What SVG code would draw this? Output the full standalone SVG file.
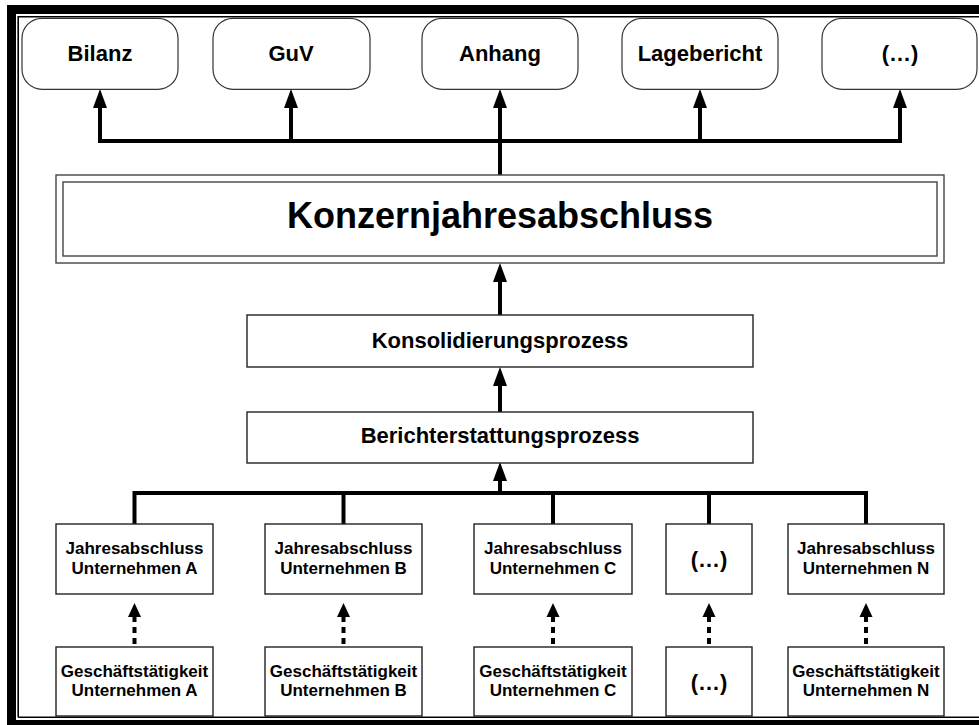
<svg xmlns="http://www.w3.org/2000/svg" width="979" height="725" viewBox="0 0 979 725">
  <defs>
    <marker id="arrow" markerUnits="userSpaceOnUse" markerWidth="20" markerHeight="14" refX="0" refY="7" orient="auto" overflow="visible">
      <path d="M0,0 L19,7 L0,14 Z" fill="#000"/>
    </marker>
    <marker id="arrow-small" markerUnits="userSpaceOnUse" markerWidth="14" markerHeight="13" refX="0" refY="6.5" orient="auto" overflow="visible">
      <path d="M0,0 L14,6.5 L0,13 Z" fill="#000"/>
    </marker>
    <style>
      text { font-family: "Liberation Sans", Arial, sans-serif; font-weight: bold; fill: #000; text-anchor: middle; }
      .doc { fill: #fff; stroke: #333; stroke-width: 1.2; }
      .box { fill: #fff; stroke: #222; stroke-width: 1.4; }
      .t22 { font-size: 22px; }
      .t17 { font-size: 17px; }
      .title { font-size: 36px; }
      .line { fill: none; stroke: #000; stroke-width: 4; }
      .bus { fill: none; stroke: #000; stroke-width: 4; stroke-linecap: square; }
      .dash { fill: none; stroke: #000; stroke-width: 4; stroke-dasharray: 6 5; stroke-linecap: butt; }
    </style>
  </defs>

  <rect width="979" height="725" fill="#fff"/>

  <!-- frame -->
  <g id="frame">
    <rect x="7" y="5" width="980" height="9" fill="#000"/>
    <rect x="7" y="5" width="9" height="730" fill="#000"/>
    <rect x="7" y="720" width="980" height="10" fill="#000"/>
    <path d="M18.2,717.3 V16.7 H985" fill="none" stroke="#000" stroke-width="1.6"/>
    <path d="M18.2,717.3 H985" fill="none" stroke="#000" stroke-width="1.6"/>
  </g>

  <!-- connectors -->
  <g id="connectors">
    <path class="bus" d="M100,141 H900"/>
    <path class="line" d="M100,141 V108" marker-end="url(#arrow)"/>
    <path class="line" d="M291,141 V108" marker-end="url(#arrow)"/>
    <path class="line" d="M500,141 V108" marker-end="url(#arrow)"/>
    <path class="line" d="M700,141 V108" marker-end="url(#arrow)"/>
    <path class="line" d="M900,141 V108" marker-end="url(#arrow)"/>
    <path class="line" d="M500,175 V141"/>
    <path class="line" d="M500,315 V282" marker-end="url(#arrow)"/>
    <path class="line" d="M500,412 V386" marker-end="url(#arrow)"/>
    <path class="bus" d="M134.5,524 V493 H866 V524"/>
    <path class="line" d="M343.5,493 V524"/>
    <path class="line" d="M553,493 V524"/>
    <path class="line" d="M709,493 V524"/>
    <path class="line" d="M500,493 V481" marker-end="url(#arrow)"/>
    <path class="dash" d="M134.5,644 V617" marker-end="url(#arrow-small)"/>
    <path class="dash" d="M343.5,644 V617" marker-end="url(#arrow-small)"/>
    <path class="dash" d="M553,644 V617" marker-end="url(#arrow-small)"/>
    <path class="dash" d="M709,644 V617" marker-end="url(#arrow-small)"/>
    <path class="dash" d="M866,644 V617" marker-end="url(#arrow-small)"/>
  </g>

  <!-- report components -->
  <g id="bilanz">
    <rect class="doc" x="22" y="18.3" width="156" height="71" rx="20"/>
    <text class="t22" x="100" y="61">Bilanz</text>
  </g>
  <g id="guv">
    <rect class="doc" x="213" y="18.3" width="157" height="71" rx="20"/>
    <text class="t22" x="291" y="61">GuV</text>
  </g>
  <g id="anhang">
    <rect class="doc" x="422" y="18.3" width="156" height="71" rx="20"/>
    <text class="t22" x="500" y="61">Anhang</text>
  </g>
  <g id="lagebericht">
    <rect class="doc" x="622" y="18.3" width="156" height="71" rx="20"/>
    <text class="t22" x="700" y="61">Lagebericht</text>
  </g>
  <g id="weitere">
    <rect class="doc" x="822" y="18.3" width="155" height="71" rx="20"/>
    <text class="t22" x="900" y="61">(…)</text>
  </g>

  <!-- group financial statement -->
  <g id="konzernjahresabschluss">
    <rect x="56" y="175" width="888" height="88" fill="#fff" stroke="#444" stroke-width="1.4"/>
    <rect x="63" y="182" width="874" height="74" fill="none" stroke="#444" stroke-width="1.4"/>
    <text class="title" x="500" y="228">Konzernjahresabschluss</text>
  </g>

  <g id="konsolidierungsprozess">
    <rect class="box" x="247" y="315" width="506" height="52"/>
    <text class="t22" x="500" y="348">Konsolidierungsprozess</text>
  </g>
  <g id="berichterstattungsprozess">
    <rect class="box" x="247" y="412" width="506" height="51"/>
    <text class="t22" x="500" y="443">Berichterstattungsprozess</text>
  </g>

  <!-- single-entity statements -->
  <g id="ja-a">
    <rect class="box" x="56" y="524" width="157" height="70"/>
    <text class="t17" x="134.5" y="554">Jahresabschluss</text>
    <text class="t17" x="134.5" y="574">Unternehmen A</text>
  </g>
  <g id="ja-b">
    <rect class="box" x="265" y="524" width="157" height="70"/>
    <text class="t17" x="343.5" y="554">Jahresabschluss</text>
    <text class="t17" x="343.5" y="574">Unternehmen B</text>
  </g>
  <g id="ja-c">
    <rect class="box" x="474" y="524" width="158" height="70"/>
    <text class="t17" x="553" y="554">Jahresabschluss</text>
    <text class="t17" x="553" y="574">Unternehmen C</text>
  </g>
  <g id="ja-weitere">
    <rect class="box" x="666" y="524" width="86" height="70"/>
    <text class="t22" x="709" y="567">(…)</text>
  </g>
  <g id="ja-n">
    <rect class="box" x="788" y="524" width="156" height="70"/>
    <text class="t17" x="866" y="554">Jahresabschluss</text>
    <text class="t17" x="866" y="574">Unternehmen N</text>
  </g>

  <!-- business activities -->
  <g id="gt-a">
    <rect class="box" x="56" y="647" width="157" height="69"/>
    <text class="t17" x="134.5" y="677">Geschäftstätigkeit</text>
    <text class="t17" x="134.5" y="696">Unternehmen A</text>
  </g>
  <g id="gt-b">
    <rect class="box" x="265" y="647" width="157" height="69"/>
    <text class="t17" x="343.5" y="677">Geschäftstätigkeit</text>
    <text class="t17" x="343.5" y="696">Unternehmen B</text>
  </g>
  <g id="gt-c">
    <rect class="box" x="474" y="647" width="158" height="69"/>
    <text class="t17" x="553" y="677">Geschäftstätigkeit</text>
    <text class="t17" x="553" y="696">Unternehmen C</text>
  </g>
  <g id="gt-weitere">
    <rect class="box" x="666" y="647" width="86" height="69"/>
    <text class="t22" x="709" y="690">(…)</text>
  </g>
  <g id="gt-n">
    <rect class="box" x="788" y="647" width="156" height="69"/>
    <text class="t17" x="866" y="677">Geschäftstätigkeit</text>
    <text class="t17" x="866" y="696">Unternehmen N</text>
  </g>
</svg>
